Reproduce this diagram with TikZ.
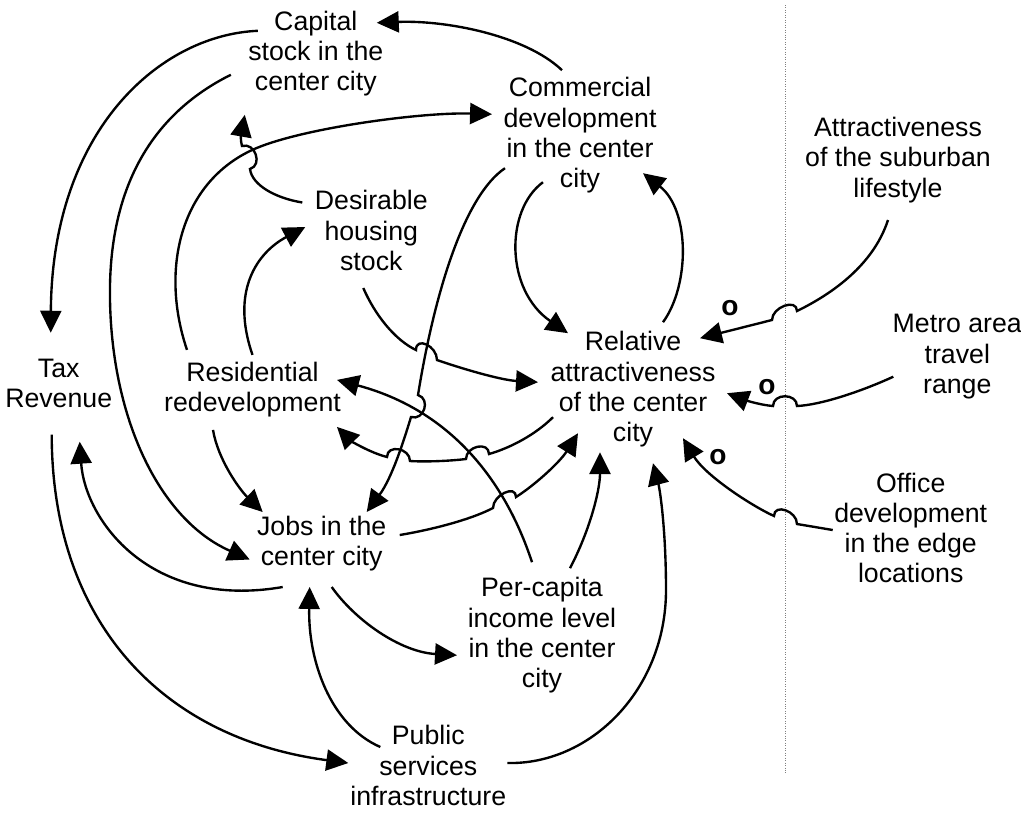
\documentclass[tikz,border=0pt]{standalone}
\usepackage{fontspec}
\setmainfont{Liberation Sans}
\usetikzlibrary{arrows.meta,calc}

\tikzset{
    var/.style={align=center, inner sep=0pt, font=\fontsize{15.2}{17.2}\selectfont},
    pol/.style={inner sep=0pt, font=\fontsize{16}{17.2}\selectfont\bfseries},
    link/.style={line width=1.35pt, -{Triangle[length=12.5pt,width=12pt]}},
}

\begin{document}
\begin{tikzpicture}[x=0.02cm, y=-0.02cm]
    \useasboundingbox (0,0) rectangle (1021,812);

    % Variables
    \node[var] (cap) at (315.8,53.8) {Capital\\stock in the\\center city};
    \node[var] (com) at (580,135.2) {Commercial\\development\\in the center\\city};
    \node[var] (sub) at (898,160) {Attractiveness\\of the suburban\\lifestyle};
    \node[var] (des) at (371.3,230.5) {Desirable\\housing\\stock};
    \node[var] (tax) at (58.7,383.7) {Tax\\Revenue};
    \node[var] (res) at (252.5,389.9) {Residential\\redevelopment};
    \node[var] (rel) at (633,389.2) {Relative\\attractiveness\\of the center\\city};
    \node[var] (met) at (957.3,356.7) {Metro area\\travel\\range};
    \node[var] (job) at (321.7,543.5) {Jobs in the\\center city};
    \node[var] (per) at (542,635.2) {Per-capita\\income level\\in the center\\city};
    \node[var] (off) at (910.7,528) {Office\\development\\in the edge\\locations};
    \node[var] (pub) at (428.3,765.5) {Public\\services\\infrastructure};

    % Boundary of the center city
    \draw[gray, densely dotted, line width=0.4pt] (785,5) -- (785,773);

    % Opposite-sign markers
    \node[pol] (o1) at (730,308) {o};
    \node[pol] (o2) at (767,387) {o};
    \node[pol] (o3) at (718,457) {o};

    % Links in the city core
    \draw[link] ($(com)+(-18,-65)$) .. controls (525,35) and (445,20) .. ($(cap)+(61,-31)$);
    \draw[link] ($(cap)+(-58,-23)$) .. controls (160,35) and (52,130) .. ($(tax)+(-8,-51)$);
    \draw[link] ($(cap)+(-85,21)$) .. controls (150,115) and (108,190) .. (110,300)
        .. controls (112,420) and (160,520) .. ($(job)+(-72,16)$);
    \draw[link] ($(des)+(-69,-28)$) .. controls (275,198) and (252,185) .. (250,169)
        .. controls +(13,-4) and +(13,-4) .. (242,146)
        .. controls (239,135) and (243,125) .. ($(cap)+(-71,61)$);
    \draw[link] ($(res)+(-65.5,-40)$) .. controls (160,270) and (180,185) .. (250,151)
        .. controls (295,129) and (420,112) .. ($(com)+(-88,-21)$);
    \draw[link] ($(res)+(0,-35)$) .. controls (230,290) and (258,252) .. ($(des)+(-66,-3.5)$);
    \draw[link] ($(des)+(-8,57.5)$) .. controls (375,315) and (395,340) .. (416,350)
        .. controls +(0,-14) and +(0,-14) .. (437,360)
        .. controls (460,368) and (500,380) .. ($(rel)+(-95,-7)$);
    \draw[link] ($(com)+(-75,33)$) .. controls (465,195) and (435,290) .. (418,395)
        .. controls +(13,4) and +(13,4) .. (411,417)
        .. controls (404,440) and (392,478) .. ($(job)+(45,-31.5)$);
    \draw[link] ($(com)+(-37,47)$) .. controls (505,210) and (505,290) .. ($(rel)+(-65,-56)$);
    \draw[link] ($(rel)+(30,-67)$) .. controls (690,285) and (690,210) .. ($(com)+(63,38)$);

    % Links from outside the city
    \draw[link] ($(sub)+(-10,60)$) .. controls (875,260) and (840,290) .. (797,311)
        .. controls +(0,-13) and +(0,-13) .. (772,320) -- ($(rel)+(67,-51)$);
    \draw[link] ($(met)+(-64,20)$) .. controls (860,392) and (820,405) .. (797,406)
        .. controls +(0,-13) and +(0,-13) .. (773,406)
        .. controls (760,405) and (745,400) .. ($(rel)+(94,4)$);
    \draw[link] ($(off)+(-78,2)$) -- (797,524)
        .. controls +(0,-13) and +(0,-13) .. (774,516)
        .. controls (750,505) and (705,475) .. ($(rel)+(50,49)$);

    % Links in the lower loops
    \draw[link] ($(rel)+(-80,28)$) .. controls (535,435) and (510,448) .. (489,454)
        .. controls +(0,-13) and +(0,-13) .. (466,459)
        .. controls (450,461) and (425,462) .. (410,461)
        .. controls +(0,-13) and +(0,-13) .. (387,457)
        .. controls (368,452) and (350,440) .. ($(res)+(84.5,37)$);
    \draw[link] ($(per)+(-10,-73)$) .. controls (505,480) and (450,410) .. ($(res)+(84.5,-10)$);
    \draw[link] ($(job)+(78,-8.5)$) .. controls (430,530) and (470,520) .. (493,508)
        .. controls +(0,-13) and +(0,-13) .. (516,497)
        .. controls (535,485) and (560,462) .. ($(rel)+(-55,44)$);
    \draw[link] ($(per)+(28,-67)$) .. controls (590,530) and (600,490) .. ($(rel)+(-33,63)$);
    \draw[link] ($(pub)+(79,-2.5)$) .. controls (590,765) and (666,690) .. (666,590)
        .. controls (666,530) and (660,490) .. ($(rel)+(20,74)$);
    \draw[link] ($(res)+(-39.5,40)$) .. controls (218,460) and (240,490) .. ($(job)+(-59,-31.5)$);
    \draw[link] ($(job)+(-39,43.5)$) .. controls (150,610) and (85,520) .. ($(tax)+(21,58)$);
    \draw[link] ($(job)+(10,43.5)$) .. controls (355,620) and (400,652) .. ($(per)+(-85,20)$);
    \draw[link] ($(pub)+(-48,-18.5)$) .. controls (330,725) and (308,660) .. ($(job)+(-12,43.5)$);
    \draw[link] ($(tax)+(-7,51)$) .. controls (52,620) and (160,738) .. ($(pub)+(-80,-2.5)$);
\end{tikzpicture}
\end{document}
